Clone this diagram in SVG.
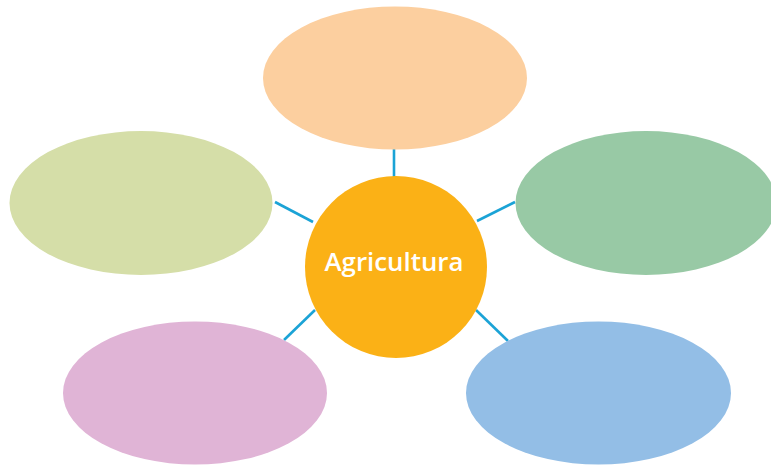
<svg xmlns="http://www.w3.org/2000/svg" width="771" height="467" viewBox="0 0 771 467">
<style>
.c{stroke:#1ba3d6;stroke-width:2.6;fill:none;stroke-linecap:butt}
.t{font-family:"Open Sans","Liberation Sans",sans-serif;font-weight:600;font-size:25px;fill:#ffffff}
</style>
<rect width="771" height="467" fill="#ffffff"/>
<g id="connectors">
<line class="c" x1="394" y1="148" x2="394" y2="178"/>
<line class="c" x1="275" y1="202" x2="313" y2="222"/>
<line class="c" x1="477" y1="221" x2="515" y2="202"/>
<line class="c" x1="284" y1="340" x2="315" y2="310"/>
<line class="c" x1="476" y1="310" x2="508" y2="341"/>
</g>
<g id="node-top"><ellipse cx="395" cy="78" rx="132" ry="71.5" fill="#fccf9f"/></g>
<g id="node-left"><ellipse cx="141" cy="203" rx="131.5" ry="72" fill="#d5dea8"/></g>
<g id="node-right"><ellipse cx="646" cy="203" rx="130.5" ry="72" fill="#98c9a5"/></g>
<g id="node-bottom-left"><ellipse cx="195" cy="393" rx="132" ry="71.5" fill="#e0b4d6"/></g>
<g id="node-bottom-right"><ellipse cx="598.5" cy="393" rx="132.5" ry="71.5" fill="#93bee6"/></g>
<g id="node-center">
<circle cx="396" cy="267" r="91" fill="#fbb116"/>
<text class="t" x="394" y="271" text-anchor="middle" textLength="139" lengthAdjust="spacingAndGlyphs">Agricultura</text>
</g>
</svg>
